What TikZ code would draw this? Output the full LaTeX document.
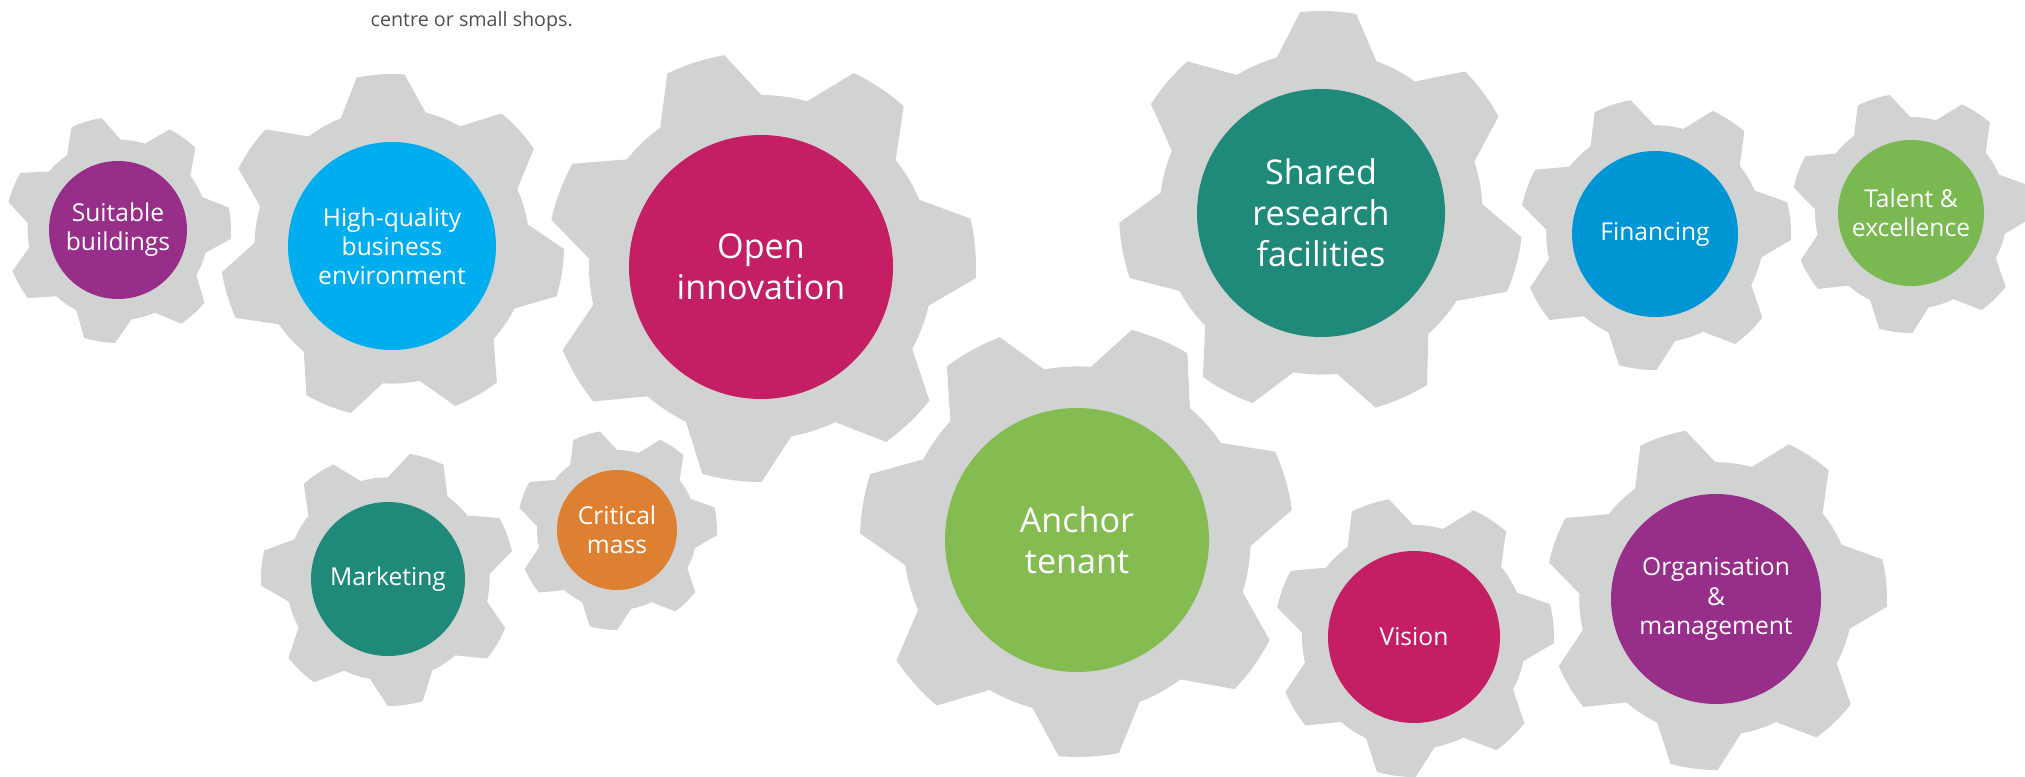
\documentclass[tikz,border=0pt]{standalone}
\usepackage{fontspec}
\setmainfont{Open Sans}
\definecolor{geargray}{RGB}{209,211,210}
\definecolor{mypurple}{RGB}{151,46,138}
\definecolor{mycyan}{RGB}{0,173,238}
\definecolor{mymagenta}{RGB}{196,30,100}
\definecolor{myteal}{RGB}{31,138,122}
\definecolor{myorange}{RGB}{221,128,49}
\definecolor{mygreen}{RGB}{133,188,82}
\definecolor{mylime}{RGB}{122,184,82}
\definecolor{myblue}{RGB}{0,150,214}
\definecolor{textgray}{RGB}{80,80,80}

\begin{document}
\begin{tikzpicture}[x=0.01cm,y=0.01cm]
\tikzstyle{every node}+=[inner sep=0pt]
\tikzstyle{lbl}=[text=white,align=center,font=\fontsize{7}{8.3}\selectfont]
\tikzstyle{biglbl}=[text=white,align=center,font=\fontsize{9.7}{11.7}\selectfont]
\useasboundingbox (0,0) rectangle (2025,-776);
\foreach \gx/\gy/\gr/\rot in {118/-230/113/3.4, 392/-246/172/-9, 761/-267/215/5,
    388/-579/127/20.7, 617/-530/100/5, 1077/-540/217/16, 1321/-213/202/36.5,
    1655/-234/136/5.5, 1911/-213/120/5.5, 1414/-637/140/5.5, 1716/-599/171/5.4}
  \fill [geargray, shift={(\gx,\gy)}] ({\rot-18}:{0.8*\gr})
    \foreach \tooth in {0,...,6} {
      -- ({\rot+\tooth*360/7-8}:\gr)
      arc [start angle={\rot+\tooth*360/7-8}, end angle={\rot+\tooth*360/7+8}, radius=\gr]
      -- ({\rot+\tooth*360/7+18}:{0.8*\gr})
      arc [start angle={\rot+\tooth*360/7+18}, end angle={\rot+(\tooth+1)*360/7-18}, radius={0.8*\gr}]
    } -- cycle;
\fill [mypurple] (118,-230) circle (69);
\draw (118,-230) node (suit) [lbl] {Suitable\\buildings};
\fill [mycyan] (392,-246) circle (104);
\draw (392,-246) node (hq) [lbl] {High-quality\\business\\environment};
\fill [mymagenta] (761,-267) circle (132);
\draw (761,-267) node (open) [biglbl] {Open\\innovation};
\fill [myteal] (388,-579) circle (77);
\draw (388,-579) node (mkt) [lbl] {Marketing};
\fill [myorange] (617,-530) circle (60);
\draw (617,-530) node (crit) [lbl] {Critical\\mass};
\fill [mygreen] (1077,-540) circle (132);
\draw (1077,-540) node (anchor) [biglbl] {Anchor\\tenant};
\fill [myteal] (1321,-213) circle (124);
\draw (1321,-213) node (shared) [biglbl] {Shared\\research\\facilities};
\fill [myblue] (1655,-234) circle (83);
\draw (1655,-234) node (fin) [lbl] {Financing};
\fill [mylime] (1911,-213) circle (73);
\draw (1911,-213) node (talent) [lbl] {Talent \&\\excellence};
\fill [mymagenta] (1414,-637) circle (86);
\draw (1414,-637) node (vision) [lbl] {Vision};
\fill [mypurple] (1716,-599) circle (105);
\draw (1716,-599) node (org) [lbl] {Organisation\\\&\\management};
\draw (370,-27) node (shops) [anchor=base west,text=textgray,font=\fontsize{5.6}{7}\selectfont] {centre or small shops.};
\end{tikzpicture}
\end{document}
